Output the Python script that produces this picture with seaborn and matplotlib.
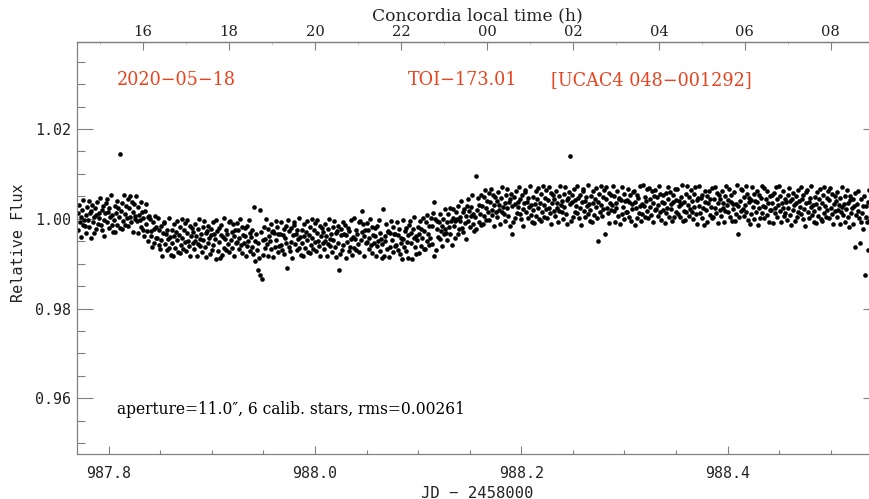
import numpy as np
import matplotlib
matplotlib.use('Agg')
import matplotlib.pyplot as plt
from matplotlib.ticker import MultipleLocator, FixedLocator, FuncFormatter
import seaborn as sns

# time stamps, units of 1e-4 d after JD 2458987.0
t_e4 = [
    7700, 7707, 7714, 7721, 7728, 7735, 7742, 7749, 7756, 7763,
    7770, 7777, 7784, 7791, 7798, 7805, 7812, 7819, 7826, 7833,
    7840, 7847, 7854, 7861, 7868, 7875, 7882, 7889, 7896, 7903,
    7910, 7917, 7924, 7931, 7938, 7945, 7952, 7959, 7966, 7973,
    7980, 7987, 7994, 8001, 8008, 8015, 8022, 8029, 8036, 8043,
    8050, 8057, 8064, 8071, 8078, 8085, 8092, 8099, 8106, 8113,
    8120, 8127, 8134, 8141, 8148, 8155, 8162, 8169, 8176, 8183,
    8190, 8197, 8204, 8211, 8218, 8225, 8232, 8239, 8246, 8253,
    8260, 8267, 8274, 8281, 8288, 8295, 8302, 8309, 8316, 8323,
    8330, 8337, 8344, 8351, 8358, 8365, 8372, 8379, 8386, 8393,
    8400, 8407, 8414, 8421, 8428, 8435, 8442, 8449, 8456, 8463,
    8470, 8477, 8484, 8491, 8498, 8505, 8512, 8519, 8526, 8533,
    8540, 8547, 8554, 8561, 8568, 8575, 8582, 8589, 8596, 8603,
    8610, 8617, 8624, 8631, 8638, 8645, 8652, 8659, 8666, 8673,
    8680, 8687, 8694, 8701, 8708, 8715, 8722, 8729, 8736, 8743,
    8750, 8757, 8764, 8771, 8778, 8785, 8792, 8799, 8806, 8813,
    8820, 8827, 8834, 8841, 8848, 8855, 8862, 8869, 8876, 8883,
    8890, 8897, 8904, 8911, 8918, 8925, 8932, 8939, 8946, 8953,
    8960, 8967, 8974, 8981, 8988, 8995, 9002, 9009, 9016, 9023,
    9030, 9037, 9044, 9051, 9058, 9065, 9072, 9079, 9086, 9093,
    9100, 9107, 9114, 9121, 9128, 9135, 9142, 9149, 9156, 9163,
    9170, 9177, 9184, 9191, 9198, 9205, 9212, 9219, 9226, 9233,
    9240, 9247, 9254, 9261, 9268, 9275, 9282, 9289, 9296, 9303,
    9310, 9317, 9324, 9331, 9338, 9345, 9352, 9359, 9366, 9373,
    9380, 9387, 9394, 9401, 9408, 9415, 9422, 9429, 9436, 9443,
    9450, 9457, 9464, 9471, 9478, 9485, 9492, 9499, 9506, 9513,
    9520, 9527, 9534, 9541, 9548, 9555, 9562, 9569, 9576, 9583,
    9590, 9597, 9604, 9611, 9618, 9625, 9632, 9639, 9646, 9653,
    9660, 9667, 9674, 9681, 9688, 9695, 9702, 9709, 9716, 9723,
    9730, 9737, 9744, 9751, 9758, 9765, 9772, 9779, 9786, 9793,
    9800, 9807, 9814, 9821, 9828, 9835, 9842, 9849, 9856, 9863,
    9870, 9877, 9884, 9891, 9898, 9905, 9912, 9919, 9926, 9933,
    9940, 9947, 9954, 9961, 9968, 9975, 9982, 9989, 9996, 10003,
    10010, 10017, 10024, 10031, 10038, 10045, 10052, 10059, 10066, 10073,
    10080, 10087, 10094, 10101, 10108, 10115, 10122, 10129, 10136, 10143,
    10150, 10157, 10164, 10171, 10178, 10185, 10192, 10199, 10206, 10213,
    10220, 10227, 10234, 10241, 10248, 10255, 10262, 10269, 10276, 10283,
    10290, 10297, 10304, 10311, 10318, 10325, 10332, 10339, 10346, 10353,
    10360, 10367, 10374, 10381, 10388, 10395, 10402, 10409, 10416, 10423,
    10430, 10437, 10444, 10451, 10458, 10465, 10472, 10479, 10486, 10493,
    10500, 10507, 10514, 10521, 10528, 10535, 10542, 10549, 10556, 10563,
    10570, 10577, 10584, 10591, 10598, 10605, 10612, 10619, 10626, 10633,
    10640, 10647, 10654, 10661, 10668, 10675, 10682, 10689, 10696, 10703,
    10710, 10717, 10724, 10731, 10738, 10745, 10752, 10759, 10766, 10773,
    10780, 10787, 10794, 10801, 10808, 10815, 10822, 10829, 10836, 10843,
    10850, 10857, 10864, 10871, 10878, 10885, 10892, 10899, 10906, 10913,
    10920, 10927, 10934, 10941, 10948, 10955, 10962, 10969, 10976, 10983,
    10990, 10997, 11004, 11011, 11018, 11025, 11032, 11039, 11046, 11053,
    11060, 11067, 11074, 11081, 11088, 11095, 11102, 11109, 11116, 11123,
    11130, 11137, 11144, 11151, 11158, 11165, 11172, 11179, 11186, 11193,
    11200, 11207, 11214, 11221, 11228, 11235, 11242, 11249, 11256, 11263,
    11270, 11277, 11284, 11291, 11298, 11305, 11312, 11319, 11326, 11333,
    11340, 11347, 11354, 11361, 11368, 11375, 11382, 11389, 11396, 11403,
    11410, 11417, 11424, 11431, 11438, 11445, 11452, 11459, 11466, 11473,
    11480, 11487, 11494, 11501, 11508, 11515, 11522, 11529, 11536, 11543,
    11550, 11557, 11564, 11571, 11578, 11585, 11592, 11599, 11606, 11613,
    11620, 11627, 11634, 11641, 11648, 11655, 11662, 11669, 11676, 11683,
    11690, 11697, 11704, 11711, 11718, 11725, 11732, 11739, 11746, 11753,
    11760, 11767, 11774, 11781, 11788, 11795, 11802, 11809, 11816, 11823,
    11830, 11837, 11844, 11851, 11858, 11865, 11872, 11879, 11886, 11893,
    11900, 11907, 11914, 11921, 11928, 11935, 11942, 11949, 11956, 11963,
    11970, 11977, 11984, 11991, 11998, 12005, 12012, 12019, 12026, 12033,
    12040, 12047, 12054, 12061, 12068, 12075, 12082, 12089, 12096, 12103,
    12110, 12117, 12124, 12131, 12138, 12145, 12152, 12159, 12166, 12173,
    12180, 12187, 12194, 12201, 12208, 12215, 12222, 12229, 12236, 12243,
    12250, 12257, 12264, 12271, 12278, 12285, 12292, 12299, 12306, 12313,
    12320, 12327, 12334, 12341, 12348, 12355, 12362, 12369, 12376, 12383,
    12390, 12397, 12404, 12411, 12418, 12425, 12432, 12439, 12446, 12453,
    12460, 12467, 12474, 12481, 12488, 12495, 12502, 12509, 12516, 12523,
    12530, 12537, 12544, 12551, 12558, 12565, 12572, 12579, 12586, 12593,
    12600, 12607, 12614, 12621, 12628, 12635, 12642, 12649, 12656, 12663,
    12670, 12677, 12684, 12691, 12698, 12705, 12712, 12719, 12726, 12733,
    12740, 12747, 12754, 12761, 12768, 12775, 12782, 12789, 12796, 12803,
    12810, 12817, 12824, 12831, 12838, 12845, 12852, 12859, 12866, 12873,
    12880, 12887, 12894, 12901, 12908, 12915, 12922, 12929, 12936, 12943,
    12950, 12957, 12964, 12971, 12978, 12985, 12992, 12999, 13006, 13013,
    13020, 13027, 13034, 13041, 13048, 13055, 13062, 13069, 13076, 13083,
    13090, 13097, 13104, 13111, 13118, 13125, 13132, 13139, 13146, 13153,
    13160, 13167, 13174, 13181, 13188, 13195, 13202, 13209, 13216, 13223,
    13230, 13237, 13244, 13251, 13258, 13265, 13272, 13279, 13286, 13293,
    13300, 13307, 13314, 13321, 13328, 13335, 13342, 13349, 13356, 13363,
    13370, 13377, 13384, 13391, 13398, 13405, 13412, 13419, 13426, 13433,
    13440, 13447, 13454, 13461, 13468, 13475, 13482, 13489, 13496, 13503,
    13510, 13517, 13524, 13531, 13538, 13545, 13552, 13559, 13566, 13573,
    13580, 13587, 13594, 13601, 13608, 13615, 13622, 13629, 13636, 13643,
    13650, 13657, 13664, 13671, 13678, 13685, 13692, 13699, 13706, 13713,
    13720, 13727, 13734, 13741, 13748, 13755, 13762, 13769, 13776, 13783,
    13790, 13797, 13804, 13811, 13818, 13825, 13832, 13839, 13846, 13853,
    13860, 13867, 13874, 13881, 13888, 13895, 13902, 13909, 13916, 13923,
    13930, 13937, 13944, 13951, 13958, 13965, 13972, 13979, 13986, 13993,
    14000, 14007, 14014, 14021, 14028, 14035, 14042, 14049, 14056, 14063,
    14070, 14077, 14084, 14091, 14098, 14105, 14112, 14119, 14126, 14133,
    14140, 14147, 14154, 14161, 14168, 14175, 14182, 14189, 14196, 14203,
    14210, 14217, 14224, 14231, 14238, 14245, 14252, 14259, 14266, 14273,
    14280, 14287, 14294, 14301, 14308, 14315, 14322, 14329, 14336, 14343,
    14350, 14357, 14364, 14371, 14378, 14385, 14392, 14399, 14406, 14413,
    14420, 14427, 14434, 14441, 14448, 14455, 14462, 14469, 14476, 14483,
    14490, 14497, 14504, 14511, 14518, 14525, 14532, 14539, 14546, 14553,
    14560, 14567, 14574, 14581, 14588, 14595, 14602, 14609, 14616, 14623,
    14630, 14637, 14644, 14651, 14658, 14665, 14672, 14679, 14686, 14693,
    14700, 14707, 14714, 14721, 14728, 14735, 14742, 14749, 14756, 14763,
    14770, 14777, 14784, 14791, 14798, 14805, 14812, 14819, 14826, 14833,
    14840, 14847, 14854, 14861, 14868, 14875, 14882, 14889, 14896, 14903,
    14910, 14917, 14924, 14931, 14938, 14945, 14952, 14959, 14966, 14973,
    14980, 14987, 14994, 15001, 15008, 15015, 15022, 15029, 15036, 15043,
    15050, 15057, 15064, 15071, 15078, 15085, 15092, 15099, 15106, 15113,
    15120, 15127, 15134, 15141, 15148, 15155, 15162, 15169, 15176, 15183,
    15190, 15197, 15204, 15211, 15218, 15225, 15232, 15239, 15246, 15253,
    15260, 15267, 15274, 15281, 15288, 15295, 15302, 15309, 15316, 15323,
    15330, 15337, 15344, 15351, 15358, 15365, 15372, 15379, 15386, 15393,
    15400, 15407, 15414, 15421, 15428, 15435, 15442, 15449, 15456, 15463,
]

# relative flux minus 1, units of 1e-4
f_e4 = [
    12, -25, 31, -8, 3, -40, 19, -14, 42, -2,
    -16, 9, -31, 26, -3, 40, -19, 12, -42, 17,
    31, -7, 4, -32, 24, 9, -23, 38, -12, 13,
    2, 46, -14, 20, -24, 28, -3, -39, 12, 35,
    43, -7, 16, -20, 25, 5, 52, -14, 9, -30,
    -2, 28, -30, 13, 40, -14, 23, 4, 145, -21,
    17, -23, 36, -5, 53, 11, -14, 28, 2, 45,
    -17, 23, 51, 5, -7, 38, -30, 16, 33, -1,
    6, 50, -6, 27, -32, 9, -2, 37, -19, 16,
    -24, 1, -39, 18, -11, 32, -27, 4, -50, 7,
    0, -38, -27, -63, -7, -22, -54, 7, -43, -18,
    -42, 2, -58, -24, -68, -16, -47, -83, -32, -9,
    -7, -57, -34, -70, -25, -45, 2, -64, -41, -80,
    -54, -24, -82, -39, -12, -66, -29, -48, -5, -73,
    -37, -77, -18, -59, -1, -43, -68, -26, -52, -9,
    -71, -31, -3, -49, -61, -16, -84, -38, -21, -55,
    -30, -67, -11, -50, -39, -82, -23, -56, 0, -44,
    -60, -35, -75, -18, -47, -4, -63, -32, -86, -27,
    -15, -53, -42, -78, -22, -37, -69, -8, -58, -33,
    -46, -2, -90, -28, -72, -20, -51, -87, -36, -13,
    -80, -41, -64, 2, -45, -25, -70, -34, -57, -7,
    -73, -5, -48, -29, -66, -12, -39, -82, -24, -54,
    -9, -52, -26, -68, -43, -1, -59, -18, -77, -37,
    -55, -21, -38, -84, -16, -61, -49, -3, -31, -71,
    -40, -62, -25, -78, 26, -50, -95, -33, -70, -115,
    -55, -88, -126, 20, -30, -134, -80, -48, -18, -66,
    -44, 0, -56, -23, -82, -39, -50, -11, -67, -30,
    -27, -86, -32, -63, -4, -47, -18, -75, -35, -60,
    -33, -58, -8, -69, -37, -22, -78, -42, -53, -15,
    -110, -2, -62, -28, -72, -20, -51, -87, -36, -13,
    -7, -57, -34, -70, -25, -45, 2, -64, -41, -80,
    -54, -24, -82, -39, -12, -66, -29, -48, -5, -73,
    -37, -77, -18, -59, -1, -43, -68, -26, -52, -9,
    -71, -31, -3, -49, -61, -16, -84, -38, -21, -55,
    -30, -67, -11, -50, -39, -82, -23, -56, 0, -44,
    -60, -35, -75, -18, -47, -4, -63, -32, -86, -27,
    -15, -53, -114, -78, -22, -37, -69, -8, -58, -33,
    -13, -36, -87, -51, -20, -72, -28, -62, -2, -46,
    -80, -41, -64, 2, -45, -25, -70, -34, -57, -7,
    -73, -5, -48, -29, 17, -12, -39, -82, -24, -54,
    -9, -52, -26, -68, -43, -1, -59, -18, -77, -37,
    -55, -21, -38, -84, -16, -61, -49, -3, -31, -71,
    -44, -87, -56, 22, -82, -39, -50, -11, -67, -30,
    -27, -86, -32, -63, -4, -47, -18, -75, -35, -60,
    -33, -58, -8, -69, -37, -22, -78, -42, -53, -90,
    -46, -2, -62, -28, -72, -20, -51, -87, -36, -13,
    -5, -55, -32, -90, -23, -43, 4, -62, -39, -78,
    -48, -18, -76, -33, -6, -60, -23, -42, 1, -67,
    -27, -67, -8, -49, 9, -33, -58, -16, -42, 1,
    -56, -16, 12, -83, 37, -1, -69, -23, -6, -40,
    -8, -45, 11, -28, -17, -60, -1, -34, 22, -22,
    -32, -7, -47, 10, -19, 24, -35, -4, -58, 1,
    21, -17, -6, -42, 14, -1, -33, 28, -22, 3,
    -4, 40, -20, 14, -30, 22, -9, -45, 6, 29,
    45, -5, 18, -18, 27, 7, 54, -12, 11, -28,
    5, 95, -23, 20, 47, -7, 30, 11, 54, -14,
    29, -11, 48, 7, 65, 23, -2, 40, 14, 57,
    -2, 38, 66, 20, 8, 53, -15, 31, 48, 14,
    40, 3, 59, 20, 31, -12, 47, 14, 70, 26,
    10, 35, -5, 52, 23, 66, 7, 38, -16, 43,
    56, -34, 29, -7, 49, 34, 2, 63, 13, 38,
    26, 70, 10, 44, 0, 52, 21, -15, 36, 59,
    65, 15, 38, 2, 47, 27, 74, 8, 31, -8,
    19, 49, -9, 34, 61, 7, 44, 25, 68, 0,
    36, -4, 55, 14, 72, 30, 5, 47, 21, 64,
    2, 42, 70, 24, 12, 57, -11, 35, 52, 18,
    44, 7, 63, 24, 35, -8, 51, 18, 74, 30,
    14, 39, -1, 56, 27, 70, 11, 42, -12, 47,
    59, 139, 32, -4, 52, 37, 5, 66, 16, 41,
    28, 72, 12, 46, 2, 54, 23, -13, 38, 61,
    67, 17, 40, 4, 49, 29, 76, 10, 33, -6,
    20, 50, -8, 35, 62, 8, 45, 26, 69, 1,
    37, -50, 56, 15, 73, 31, 6, 48, 22, 65,
    -35, 43, 71, 25, 13, 58, -10, 36, 53, 19,
    30, 74, 18, 51, -8, 35, 24, 63, 7, 44,
    47, -12, 42, 11, 70, 27, 56, -1, 39, 14,
    41, 16, 66, 5, 37, 52, -4, 32, 21, 59,
    61, 38, -13, 23, 54, 2, 46, 12, 72, 28,
    -6, 33, 10, 76, 29, 49, 4, 40, 17, 67,
    1, 69, 26, 45, 8, 62, 35, -8, 50, 20,
    65, 22, 48, 6, 31, 73, 15, 56, -3, 37,
    19, 53, 36, -10, 58, 13, 25, 71, 43, 3,
    59, 21, 32, -4, 52, 37, 5, 66, 16, 41,
    67, 10, 40, 29, 4, 49, 33, 76, -6, 17,
    37, -3, 56, 15, 73, 31, 6, 48, 22, 65,
    14, 39, -1, 56, 27, 70, 11, 42, -12, 47,
    28, 72, 12, 46, 2, 54, 23, -13, 38, 61,
    20, 50, -8, 35, 62, 8, 45, 26, 69, 1,
    3, 43, 71, 25, 13, 58, -10, 36, 53, 19,
    44, 7, 63, 24, 35, -8, 51, 18, 74, 30,
    41, 16, 66, 5, 37, 52, -4, 32, 21, 59,
    -6, 33, 10, 76, 29, -34, 4, 40, 17, 67,
    65, 22, 48, 6, 31, 73, 15, 56, -3, 37,
    47, -12, 42, 11, 70, 27, 56, -1, 39, 14,
    61, 38, -13, 23, 54, 2, 46, 12, 72, 28,
    1, 69, 26, 45, 8, 62, 35, -8, 50, 20,
    19, 53, 36, -10, 58, 13, 25, 71, 43, 3,
    30, 74, 18, 51, -8, 35, 24, 63, 7, 44,
    12, 37, -3, 54, 25, 68, 9, 40, -14, 45,
    57, 19, 30, -6, 50, 35, 3, 64, 14, 39,
    26, 70, 10, 44, 0, 52, 21, -15, 36, 59,
    65, 15, 38, 2, 47, 27, 74, 8, 31, -8,
    18, 48, -10, 33, 60, 6, 43, 24, 67, -1,
    35, -5, 54, 13, 71, 29, 4, 46, 20, 63,
    1, 41, 69, 23, 11, 56, -12, 34, 51, 17,
    40, 3, 59, 20, 31, -12, 47, 14, 70, 26,
    8, 33, -7, 50, 21, 64, 5, 36, -18, 41,
    51, 13, 24, -12, 44, 29, -62, 58, 8, 33,
    18, 62, 2, -54, -8, 44, 13, -23, 28, 51,
    -126, 5, 28, -8, 37, -70, 64, -2, 21, -18,
    6, 36, -22, 21, 48, -6, 31, 12, 55, -7,
]

date_label = '2020\u221205\u221218'
target_label = 'TOI\u2212173.01'
star_label = '[UCAC4 048\u2212001292]'
info_label = 'aperture=11.0\u2033, 6 calib. stars, rms=0.00261'
hour_ticks = [16, 18, 20, 22, 24, 26, 28, 30, 32]

jd = 987.0 + np.array(t_e4) * 1e-4
flux = 1.0 + np.array(f_e4) * 1e-4

sns.set_theme(style='white')
plt.rcParams['font.family'] = ['DejaVu Sans Mono', 'DejaVu Sans']
serif = ['DejaVu Serif', 'DejaVu Sans']
grey = '#808080'
red = '#e8431f'
W, H = 870, 499

fig = plt.figure(figsize=(8.7, 4.99), dpi=100)
ax = fig.add_axes([77 / W, 45 / H, 802 / W, 412 / H])
sns.scatterplot(x=jd, y=flux, color='black', s=11, linewidth=0, ax=ax)
ax.set_xlim(987.7693, 988.5467)
ax.set_ylim(0.94759, 1.03939)

for sp in ax.spines.values():
    sp.set_color(grey)
    sp.set_linewidth(0.9)

ax.xaxis.set_major_locator(MultipleLocator(0.2))
ax.xaxis.set_minor_locator(MultipleLocator(0.05))
ax.yaxis.set_major_locator(MultipleLocator(0.02))
ax.yaxis.set_minor_locator(MultipleLocator(0.005))
ax.xaxis.set_major_formatter(FuncFormatter(lambda v, p: f'{v:.1f}'))
ax.yaxis.set_major_formatter(FuncFormatter(lambda v, p: f'{v:.2f}'))

ax.tick_params(axis='y', which='major', direction='in', length=11.5, width=0.8,
               color=grey, left=True, right=True, labelsize=10.8, pad=4.3,
               labelcolor='#222222')
ax.tick_params(axis='y', which='minor', direction='in', length=5.8, width=0.8,
               color=grey, left=True, right=True)
ax.tick_params(axis='x', which='major', direction='in', length=5.8, width=0.8,
               color=grey, bottom=True, top=False, labelsize=10.8, pad=9,
               labelcolor='#222222')
ax.tick_params(axis='x', which='minor', direction='in', length=2.9, width=0.8,
               color=grey, bottom=True, top=False)
ax.set_xlabel('')
ax.set_ylabel('')

# local time axis on top
def jd_to_hour(x):
    return (x - 988.0) * 24 + 20

def hour_to_jd(h):
    return (h - 20) / 24 + 988.0

top = ax.secondary_xaxis('top', functions=(jd_to_hour, hour_to_jd))
top.xaxis.set_major_locator(FixedLocator(hour_ticks))
top.xaxis.set_minor_locator(MultipleLocator(1))
top.xaxis.set_major_formatter(FuncFormatter(lambda h, p: f'{int(round(h)) % 24:02d}'))
top.tick_params(which='major', direction='in', length=5.8, width=0.8, color=grey,
                pad=2.5, labelsize=10.6, labelcolor='#222222', labelfontfamily='DejaVu Serif')
top.tick_params(which='minor', direction='in', length=1.8, width=0.6, color='#c8c8c8')
top.spines['top'].set_color(grey)
top.spines['top'].set_linewidth(0.9)

fig.text(477.5 / W, 1 - 20 / H, 'Concordia local time (h)', family=serif,
         fontsize=12.3, color='#222222', ha='center', va='baseline')
fig.text(477 / W, 1 - 497.5 / H, 'JD \u2212 2458000', fontsize=11.2,
         color='#222222', ha='center', va='baseline')
fig.text(22.7 / W, 1 - 242.5 / H, 'Relative Flux', fontsize=10.9, color='#222222',
         rotation=90, rotation_mode='anchor', ha='center', va='baseline')

fig.text(116.7 / W, 1 - 85 / H, date_label, family=serif, fontsize=12.7,
         color=red, ha='left', va='baseline')
fig.text(408.3 / W, 1 - 85 / H, target_label, family=serif, fontsize=12.7,
         color=red, ha='left', va='baseline')
fig.text(551 / W, 1 - 85 / H, star_label, family=serif, fontsize=12.7,
         color=red, ha='left', va='baseline')
fig.text(116.7 / W, 1 - 414.3 / H, info_label, family=serif, fontsize=11.2,
         color='black', ha='left', va='baseline')

fig.savefig('out.png', dpi=100, facecolor='white')
